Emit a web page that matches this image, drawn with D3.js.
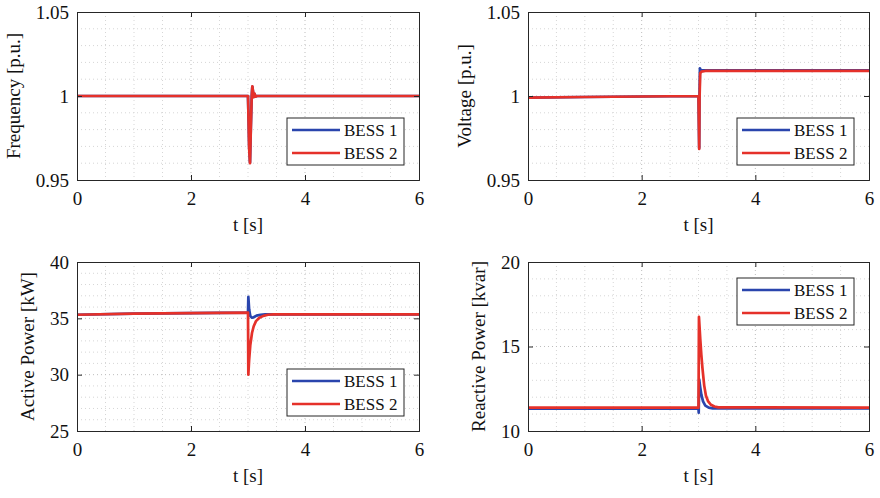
<!DOCTYPE html>
<html>
<head>
<meta charset="utf-8">
<script src="https://cdn.jsdelivr.net/npm/d3@7/dist/d3.min.js"></script>
<style>
  html, body { margin: 0; padding: 0; background: #fff; }
  svg { display: block; }
  text { font-family: "Liberation Serif", "Times New Roman", serif; fill: #111; }
</style>
</head>
<body>
<svg id="chart" width="880" height="498"></svg>
<script>
// Time-domain response of the two storage units around the disturbance at t = 3 s.

const seriesNames = ["BESS 1", "BESS 2"];
const seriesColors = ["#2a45ad", "#e5312a"];
const xTicks = [0, 2, 4, 6];

// Frequency [p.u.]
const freqT1 = [0, 3.0, 3.01, 3.02, 3.035, 3.05, 3.065, 3.076, 3.088, 3.1, 3.115, 3.13, 3.16, 6];
const freqV1 = [1.0, 1.0, 0.986, 0.970, 0.9605, 0.982, 1.0, 1.0055, 1.0025, 0.9995, 1.0012, 0.9997, 1.0, 1.0];
const freqT2 = [0, 3.0, 3.01, 3.02, 3.035, 3.05, 3.065, 3.076, 3.088, 3.1, 3.115, 3.13, 3.16, 6];
const freqV2 = [1.0, 1.0, 0.985, 0.969, 0.960, 0.981, 0.9995, 1.0058, 1.0028, 0.9993, 1.0014, 0.9996, 1.0, 1.0];

// Voltage [p.u.]
const voltT1 = [0, 1, 2, 3.0, 3.006, 3.012, 3.018, 3.025, 3.04, 3.08, 6];
const voltV1 = [0.9990, 0.9994, 0.9997, 1.0, 0.985, 0.9690, 1.0, 1.0165, 1.0153, 1.0152, 1.0152];
const voltT2 = [0, 1, 2, 3.0, 3.006, 3.012, 3.018, 3.03, 3.05, 3.12, 6];
const voltV2 = [0.9990, 0.9994, 0.9997, 1.0, 0.984, 0.9685, 0.998, 1.0135, 1.0145, 1.0149, 1.0149];

// Active power [kW]
const pT1 = [0, 1, 2, 3.0, 3.006, 3.02, 3.04, 3.07, 3.1, 3.15, 3.22, 3.3, 6];
const pV1 = [35.32, 35.42, 35.47, 35.5, 36.9, 35.8, 35.2, 35.06, 35.1, 35.24, 35.32, 35.35, 35.35];
const pT2 = [0, 1, 2, 3.0, 3.006, 3.02, 3.04, 3.07, 3.1, 3.14, 3.2, 3.27, 3.35, 3.45, 6];
const pV2 = [35.32, 35.42, 35.47, 35.5, 30.0, 31.3, 32.6, 33.7, 34.3, 34.75, 35.05, 35.22, 35.32, 35.35, 35.35];

// Reactive power [kvar]
const qT1 = [0, 3.0, 3.004, 3.012, 3.03, 3.05, 3.08, 3.12, 3.18, 3.25, 6];
const qV1 = [11.32, 11.32, 11.08, 13.05, 12.6, 12.15, 11.75, 11.5, 11.38, 11.34, 11.33];
const qT2 = [0, 3.0, 3.008, 3.03, 3.05, 3.07, 3.1, 3.13, 3.17, 3.22, 3.28, 3.35, 6];
const qV2 = [11.38, 11.38, 16.75, 15.5, 14.5, 13.7, 12.7, 12.1, 11.75, 11.55, 11.45, 11.4, 11.38];

const panels = [
  { ylabel: "Frequency [p.u.]", yDomain: [0.95, 1.05], yTicks: [0.95, 1, 1.05], yMinorStep: 0.01,
    series: [[freqT1, freqV1], [freqT2, freqV2]],
    box: { x0: 77, x1: 419, y0: 12, y1: 180 }, legend: "br", labelX: 20 },
  { ylabel: "Voltage [p.u.]", yDomain: [0.95, 1.05], yTicks: [0.95, 1, 1.05], yMinorStep: 0.01,
    series: [[voltT1, voltV1], [voltT2, voltV2]],
    box: { x0: 528, x1: 869, y0: 12, y1: 180 }, legend: "br", labelX: 471 },
  { ylabel: "Active Power [kW]", yDomain: [25, 40], yTicks: [25, 30, 35, 40], yMinorStep: 1,
    series: [[pT1, pV1], [pT2, pV2]],
    box: { x0: 77, x1: 419, y0: 262, y1: 431 }, legend: "br", labelX: 34 },
  { ylabel: "Reactive Power [kvar]", yDomain: [10, 20], yTicks: [10, 15, 20], yMinorStep: 1,
    series: [[qT1, qV1], [qT2, qV2]],
    box: { x0: 528, x1: 869, y0: 262, y1: 431 }, legend: "tr", labelX: 485 }
];

const svg = d3.select("#chart");

panels.forEach((p, pi) => {
  const b = p.box;
  const x = d3.scaleLinear().domain([0, 6]).range([b.x0, b.x1]);
  const y = d3.scaleLinear().domain(p.yDomain).range([b.y1, b.y0]);
  const g = svg.append("g");

  // minor + major grid (dotted)
  const xGrid = d3.range(0, 6.0001, 0.5);
  const yGrid = d3.range(p.yDomain[0], p.yDomain[1] + 1e-9, p.yMinorStep);
  g.append("g").selectAll("line").data(xGrid.slice(1, -1)).join("line")
    .attr("x1", d => x(d)).attr("x2", d => x(d)).attr("y1", b.y0).attr("y2", b.y1)
    .attr("stroke", d => (Math.abs(d % 2) < 1e-9 ? "#bdbdbd" : "#d6d6d6"))
    .attr("stroke-width", 1).attr("stroke-dasharray", "1,3");
  g.append("g").selectAll("line").data(yGrid.slice(1, -1)).join("line")
    .attr("x1", b.x0).attr("x2", b.x1).attr("y1", d => y(d)).attr("y2", d => y(d))
    .attr("stroke", d => (p.yTicks.some(t => Math.abs(t - d) < 1e-9) ? "#bdbdbd" : "#d6d6d6"))
    .attr("stroke-width", 1).attr("stroke-dasharray", "1,3");

  // clip for the curves
  const clipId = "clip" + pi;
  svg.append("clipPath").attr("id", clipId).append("rect")
    .attr("x", b.x0).attr("y", b.y0).attr("width", b.x1 - b.x0).attr("height", b.y1 - b.y0);

  const line = d3.line().x(d => x(d[0])).y(d => y(d[1]));
  p.series.forEach((s, si) => {
    const pts = s[0].map((t, i) => [t, s[1][i]]);
    g.append("path").datum(pts)
      .attr("clip-path", `url(#${clipId})`)
      .attr("d", line)
      .attr("fill", "none")
      .attr("stroke", seriesColors[si])
      .attr("stroke-width", 2.7)
      .attr("stroke-linejoin", "round")
      .attr("stroke-linecap", "butt");
  });

  // axes with inward ticks on all four sides
  const axB = d3.axisBottom(x).tickValues(xTicks).tickSize(-5).tickPadding(12).tickFormat(d3.format("d"));
  const axT = d3.axisTop(x).tickValues(xTicks).tickSize(-5).tickFormat("");
  const axL = d3.axisLeft(y).tickValues(p.yTicks).tickSize(-5).tickPadding(8).tickFormat(d => String(+d.toFixed(2)));
  const axR = d3.axisRight(y).tickValues(p.yTicks).tickSize(-5).tickFormat("");
  [[axB, `translate(0,${b.y1})`], [axT, `translate(0,${b.y0})`],
   [axL, `translate(${b.x0},0)`], [axR, `translate(${b.x1},0)`]].forEach(([ax, tr]) => {
    const a = g.append("g").attr("transform", tr).call(ax);
    a.select(".domain").attr("stroke", "#262626").attr("stroke-width", 1);
    a.selectAll(".tick line").attr("stroke", "#262626");
    a.selectAll("text").attr("font-size", 19).attr("fill", "#111")
      .attr("font-family", "Liberation Serif, Times New Roman, serif");
  });

  // axis titles
  g.append("text").attr("x", (b.x0 + b.x1) / 2).attr("y", b.y1 + 51)
    .attr("text-anchor", "middle").attr("font-size", 19).text("t [s]");
  g.append("text")
    .attr("transform", `translate(${p.labelX},${(b.y0 + b.y1) / 2}) rotate(-90)`)
    .attr("text-anchor", "middle").attr("font-size", 19).text(p.ylabel);

  // legend
  const lw = 117, lh = 47;
  const lx = b.x1 - 132;
  const ly = p.legend === "br" ? b.y1 - 62 : b.y0 + 16;
  const lg = g.append("g").attr("transform", `translate(${lx},${ly})`);
  lg.append("rect").attr("width", lw).attr("height", lh)
    .attr("fill", "#fff").attr("stroke", "#262626").attr("stroke-width", 1);
  seriesNames.forEach((name, i) => {
    const yy = 12 + i * 23;
    lg.append("line").attr("x1", 5).attr("x2", 53).attr("y1", yy).attr("y2", yy)
      .attr("stroke", seriesColors[i]).attr("stroke-width", 2.7);
    lg.append("text").attr("x", 57).attr("y", yy + 6).attr("font-size", 17).text(name);
  });
});
</script>
</body>
</html>
